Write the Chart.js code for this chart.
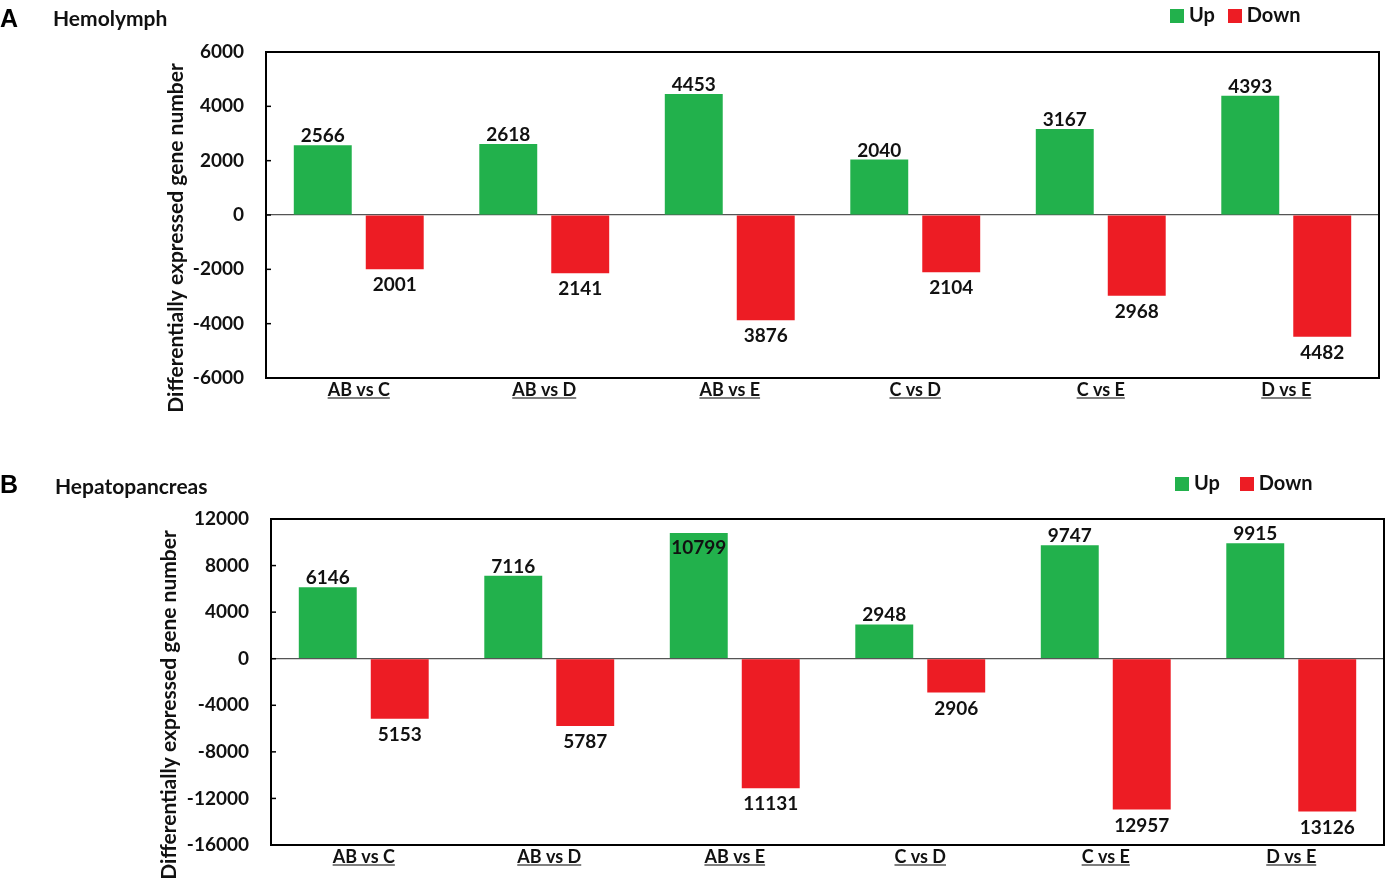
<!DOCTYPE html>
<html>
<head>
<meta charset="utf-8">
<script src="https://cdn.jsdelivr.net/npm/chart.js@4/dist/chart.umd.min.js"></script>
<style>
  body { margin: 0; background: #fff; font-family: Lato, sans-serif; }
  .panel { position: absolute; left: 0; width: 1392px; }
  .panel canvas { position: absolute; left: 0; top: 0; }
  .letter { position: absolute; font: bold 25px "Liberation Sans", Arial, sans-serif; color: #000; }
  .name { position: absolute; font: bold 21px Lato, sans-serif; color: #111; }
  .legend { position: absolute; font: bold 20px Lato, sans-serif; color: #111; white-space: nowrap; }
  .legend span.box { display: inline-block; width: 14px; height: 14px; vertical-align: -1px; margin-right: 5px; }
</style>
</head>
<body>
<div class="panel" style="top:0;height:440px">
  <canvas id="chartA" width="1392" height="440"></canvas>
  <div class="letter" style="left:0;top:4px">A</div>
  <div class="name" style="left:53px;top:5px">Hemolymph</div>
  <div class="legend" style="left:1170px;top:2px"><span class="box" style="background:#22B14C"></span>Up <span class="box" style="background:#ED1C24;margin-left:8px"></span>Down</div>
</div>
<div class="panel" style="top:440px;height:441px">
  <canvas id="chartB" width="1392" height="441"></canvas>
  <div class="letter" style="left:0;top:30px">B</div>
  <div class="name" style="left:55px;top:33px">Hepatopancreas</div>
  <div class="legend" style="left:1175px;top:30px"><span class="box" style="background:#22B14C"></span>Up <span class="box" style="background:#ED1C24;margin-left:15px"></span>Down</div>
</div>
<script>
// comparisons on the x axis
const categories = ['AB vs C', 'AB vs D', 'AB vs E', 'C vs D', 'C vs E', 'D vs E'];

// Hemolymph (A)
const upA = [2566, 2618, 4453, 2040, 3167, 4393];
const downA = [2001, 2141, 3876, 2104, 2968, 4482];

// Hepatopancreas (B)
const upB = [6146, 7116, 10799, 2948, 9747, 9915];
const downB = [5153, 5787, 11131, 2906, 12957, 13126];

const GREEN = '#22B14C';
const RED = '#ED1C24';
// trailing spaces push the centred title a bit lower, like the original
const yTitle = 'Differentially expressed gene number' + ' '.repeat(9);

// box around the plot area + small inward ticks on the y axis
const frame = {
  id: 'frame',
  afterDraw(chart) {
    const a = chart.chartArea, ctx = chart.ctx, y = chart.scales.y;
    ctx.save();
    ctx.strokeStyle = '#000';
    ctx.lineWidth = 2;
    ctx.strokeRect(a.left, a.top, a.right - a.left, a.bottom - a.top);
    ctx.lineWidth = 1.5;
    y.ticks.forEach((t, i) => {
      const py = y.getPixelForTick(i);
      ctx.beginPath();
      ctx.moveTo(a.left, py);
      ctx.lineTo(a.left + 5, py);
      ctx.stroke();
    });
    ctx.restore();
  }
};

// value labels: above green bars, below red bars
const valueLabels = {
  id: 'valueLabels',
  afterDatasetsDraw(chart) {
    const ctx = chart.ctx, top = chart.chartArea.top;
    ctx.save();
    ctx.font = 'bold 19px Lato, sans-serif';
    ctx.fillStyle = '#111';
    ctx.textAlign = 'center';
    chart.data.datasets.forEach((ds, i) => {
      chart.getDatasetMeta(i).data.forEach((bar, j) => {
        const v = ds.data[j];
        const txt = String(Math.abs(v));
        if (v >= 0) {
          if (bar.y - 20 < top) {
            ctx.textBaseline = 'top';
            ctx.fillText(txt, bar.x, bar.y + 5);
          } else {
            ctx.textBaseline = 'alphabetic';
            ctx.fillText(txt, bar.x, bar.y - 3);
          }
        } else {
          ctx.textBaseline = 'alphabetic';
          ctx.fillText(txt, bar.x, bar.y + 22);
        }
      });
    });
    ctx.restore();
  }
};

// underline the category labels
const underline = {
  id: 'underline',
  afterDraw(chart) {
    const x = chart.scales.x, ctx = chart.ctx;
    ctx.save();
    ctx.font = 'bold 18px Lato, sans-serif';
    ctx.strokeStyle = '#555';
    ctx.lineWidth = 1.5;
    x.ticks.forEach((t, i) => {
      const cx = x.getPixelForTick(i);
      const w = ctx.measureText(categories[i]).width;
      const y = x.top + 20;
      ctx.beginPath();
      ctx.moveTo(cx - w / 2, y);
      ctx.lineTo(cx + w / 2, y);
      ctx.stroke();
    });
    ctx.restore();
  }
};

function makeChart(id, up, down, yMin, yMax, step, pad, yWidth) {
  return new Chart(document.getElementById(id), {
    type: 'bar',
    data: {
      labels: categories,
      datasets: [
        { label: 'Up', data: up, backgroundColor: GREEN },
        { label: 'Down', data: down.map(v => -v), backgroundColor: RED }
      ]
    },
    options: {
      responsive: false,
      animation: false,
      devicePixelRatio: 1,
      categoryPercentage: 0.776,
      barPercentage: 0.805,
      layout: { padding: pad },
      plugins: { legend: { display: false }, tooltip: { enabled: false } },
      scales: {
        x: {
          grid: { display: false, drawTicks: false },
          border: { display: true, color: '#000', width: 2 },
          ticks: { color: '#111', font: { family: 'Lato', weight: 'bold', size: 18 }, padding: 1 },
          afterFit(s) { s.height = 30; }
        },
        y: {
          min: yMin,
          max: yMax,
          grid: {
            drawTicks: false,
            color: c => (c.tick && c.tick.value === 0 ? '#555' : 'rgba(0,0,0,0)'),
            lineWidth: 1.2
          },
          border: { display: true, color: '#000', width: 2 },
          ticks: {
            stepSize: step,
            color: '#111',
            padding: 22,
            font: { family: 'Lato', weight: 'bold', size: 19 },
            callback: v => String(v)
          },
          title: { display: true, text: yTitle, color: '#111', font: { family: 'Lato', weight: 'bold', size: 21 } },
          afterFit(s) { s.width = yWidth; }
        }
      }
    },
    plugins: [frame, valueLabels, underline]
  });
}

makeChart('chartA', upA, downA, -6000, 6000, 2000, { left: 160, top: 52, right: 13, bottom: 32 }, 106);
makeChart('chartB', upB, downB, -16000, 12000, 4000, { left: 153, top: 79, right: 8, bottom: 6 }, 118);
</script>
</body>
</html>
